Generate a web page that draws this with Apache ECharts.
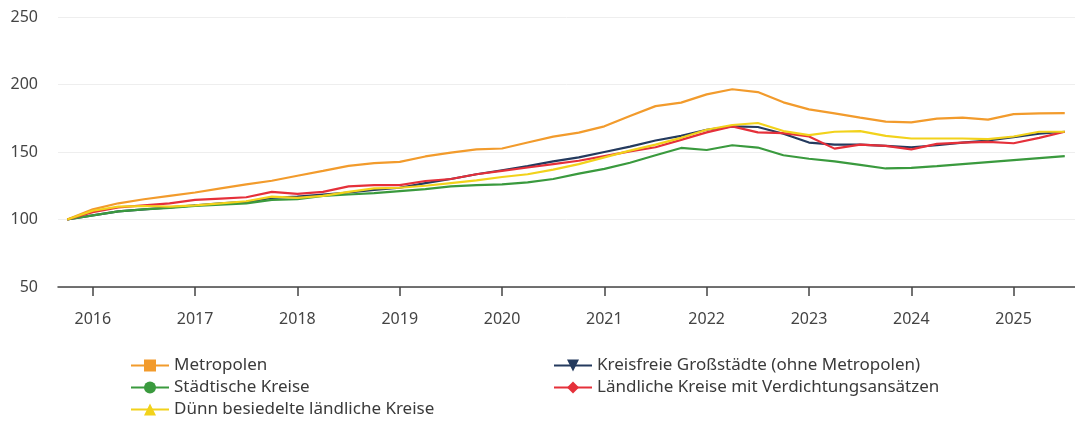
<!DOCTYPE html>
<html>
<head>
<meta charset="utf-8">
<script src="https://cdn.jsdelivr.net/npm/echarts@6/dist/echarts.min.js"></script>
<style>
  html, body { margin: 0; padding: 0; background: #fff; }
  #chart { width: 1075px; height: 431px; }
</style>
</head>
<body>
<div id="chart"></div>
<script>
// quarterly index values, 2015 Q4 .. 2025 Q3
const startYear = 2015
const startQuarter = 4
const yearTicks = [2016, 2017, 2018, 2019, 2020, 2021, 2022, 2023, 2024, 2025]

const metropolen = [100, 107.5, 112, 115, 117.5, 120, 123, 126, 128.7, 132.4,
  136, 139.7, 141.7, 142.7, 146.7, 149.6, 152, 152.6, 157, 161.4,
  164.4, 169, 176.7, 184, 186.6, 192.7, 196.5, 194.4, 186.8, 181.6,
  178.6, 175.5, 172.5, 172, 174.7, 175.5, 174, 178, 178.6, 178.8]
const kreisfreie = [100, 103, 106, 107.5, 109, 110.5, 112, 113, 116, 117,
  118.5, 120, 122, 123.5, 127, 130, 133.5, 136.5, 139.5, 143,
  146, 150, 154, 158.5, 162, 166.5, 169, 168.5, 163.5, 157,
  155.5, 155.5, 154.5, 153.5, 155, 157, 158.5, 161, 163.5, 165]
const staedtische = [100, 103, 106, 107.5, 108.5, 110, 111, 112, 114.5, 115,
  117.5, 118.5, 119.5, 121, 122.5, 124.5, 125.5, 126, 127.5, 130,
  134, 137.5, 142, 147.6, 153, 151.5, 155, 153.3, 147.6, 145,
  143, 140.5, 137.8, 138.3, 139.5, 141, 142.5, 144, 145.5, 147]
const laendliche = [100, 105.5, 109, 110.5, 112, 114.5, 115.5, 116.5, 120.5, 119,
  120.5, 124.5, 125.5, 125.5, 128.5, 130, 133.5, 136, 138.5, 141,
  143.5, 147, 150.5, 153.5, 159, 164.5, 169, 164.5, 164, 161.5,
  152.5, 155.5, 154.5, 152, 156, 157, 157.5, 156.5, 160.5, 165]
const duenn = [100, 106.5, 109.5, 110, 109.5, 110.5, 112, 113.5, 117, 116,
  117.5, 120.5, 123, 123.5, 125, 127, 129, 131.5, 133.5, 137,
  141, 146, 151, 155.5, 160.5, 166.5, 170, 171.5, 165.5, 162.5,
  165, 165.5, 162, 160, 160, 160, 159.5, 161.5, 165, 165]

function toPoints(values) {
  return values.map(function (v, i) {
    const q = startQuarter - 1 + i
    return [startYear + q / 4, v]
  })
}

const fontFamily = '"Noto Sans", "Open Sans", sans-serif'

const seriesList = [
  { name: 'Metropolen', data: metropolen, color: '#F29B2C', symbol: 'rect', rotate: 0 },
  { name: 'Kreisfreie Großstädte (ohne Metropolen)', data: kreisfreie, color: '#243a5e', symbol: 'triangle', rotate: 180 },
  { name: 'Städtische Kreise', data: staedtische, color: '#3a9a3e', symbol: 'circle', rotate: 0 },
  { name: 'Ländliche Kreise mit Verdichtungsansätzen', data: laendliche, color: '#e5303a', symbol: 'diamond', rotate: 0 },
  { name: 'Dünn besiedelte ländliche Kreise', data: duenn, color: '#f2d21b', symbol: 'triangle', rotate: 0 }
]

const chart = echarts.init(document.getElementById('chart'))

const legendText = { fontFamily: fontFamily, fontSize: 17, color: '#3a3a3a' }

chart.setOption({
  animation: false,
  grid: { left: 58, right: 0, top: 17, bottom: 144, containLabel: false, outerBoundsMode: 'none' },
  legend: [
    {
      orient: 'vertical', left: 125, top: 352, itemWidth: 38, itemHeight: 15, itemGap: 5,
      textStyle: legendText,
      data: ['Metropolen', 'Städtische Kreise', 'Dünn besiedelte ländliche Kreise']
    },
    {
      orient: 'vertical', left: 548, top: 352, itemWidth: 38, itemHeight: 15, itemGap: 5,
      textStyle: legendText,
      data: ['Kreisfreie Großstädte (ohne Metropolen)', 'Ländliche Kreise mit Verdichtungsansätzen']
    }
  ],
  xAxis: {
    type: 'value',
    min: 2015.66,
    max: 2025.6,
    splitLine: { show: false },
    axisLine: { lineStyle: { color: '#444', width: 1.5 } },
    axisTick: { show: true, customValues: yearTicks, length: 9, lineStyle: { color: '#444', width: 1.5 } },
    axisLabel: {
      customValues: yearTicks, margin: 24, fontFamily: fontFamily, fontSize: 16, color: '#444',
      formatter: function (v) { return String(Math.round(v)) }
    }
  },
  yAxis: {
    type: 'value',
    min: 50,
    max: 250,
    interval: 50,
    axisLine: { show: false },
    axisTick: { show: false },
    axisLabel: { margin: 20, fontFamily: fontFamily, fontSize: 16, color: '#444' },
    splitLine: {
      lineStyle: { color: '#eeeeee', width: 1 }
    }
  },
  series: seriesList.map(function (s) {
    return {
      name: s.name,
      type: 'line',
      data: toPoints(s.data),
      showSymbol: false,
      symbol: s.symbol,
      symbolRotate: s.rotate,
      symbolSize: 12,
      color: s.color,
      lineStyle: { width: 2.2, color: s.color },
      itemStyle: { color: s.color }
    }
  })
})
</script>
</body>
</html>
